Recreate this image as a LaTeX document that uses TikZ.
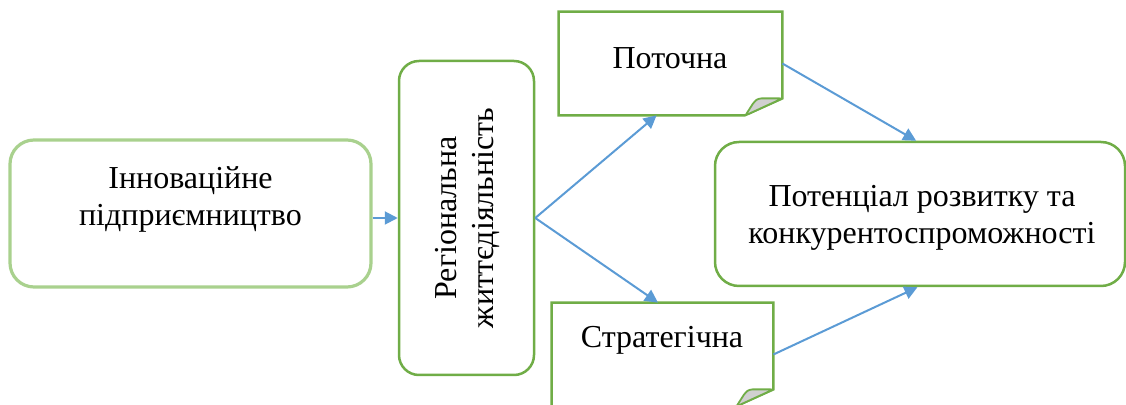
\documentclass[tikz,border=0pt]{standalone}
\usepackage{fontspec}
\setmainfont{Liberation Serif}
\usetikzlibrary{arrows.meta}
\definecolor{boxgreen}{RGB}{112,173,71}
\definecolor{litegreen}{RGB}{169,209,142}
\definecolor{arrowblue}{RGB}{91,155,213}
\definecolor{curlgray}{RGB}{208,208,208}

\begin{document}
\begin{tikzpicture}[x=0.5pt,y=-0.5pt,
  txt/.style={align=center,inner sep=0pt,font=\fontsize{16pt}{18.5pt}\selectfont},
  conn/.style={draw=arrowblue,line width=1pt,-{Triangle[length=6.5pt,width=6.5pt]}},
  fold/.style={boxgreen,line width=1.25pt},
  curl/.style={fill=curlgray,draw=boxgreen,line width=0.9pt,rounded corners=1.5pt}]

  \useasboundingbox (0,0) rectangle (1126,405);

  % boxes
  \node[draw=litegreen,line width=1.6pt,rounded corners=12pt,minimum width=180.5pt,minimum height=73.5pt] at (190.5,213.5) (b-innov) {};
  \node[draw=boxgreen,line width=1.25pt,rounded corners=10pt,minimum width=67.5pt,minimum height=157pt] at (466.5,218) (b-regio) {};
  \node[minimum width=111.5pt,minimum height=51.5pt] at (670.5,63.5) (b-poto) {};
  \node[minimum width=110.5pt,minimum height=51.5pt] at (662.5,354.5) (b-strat) {};
  \node[draw=boxgreen,line width=1.25pt,rounded corners=12pt,minimum width=205pt,minimum height=72pt] at (920,214) (b-poten) {};

  % folded corners
  \draw[fold] (b-poto.south east) ++(0,-17) -- (b-poto.north east) -- (b-poto.north west) -- (b-poto.south west) -- ++(186,0) -- cycle;
  \filldraw[curl] (b-poto.south east) ++(-37,0) -- ++(9,-14) -- ++(4,-3) -- ++(24,0) -- cycle;
  \draw[fold] (b-strat.south east) ++(0,-17) -- (b-strat.north east) -- (b-strat.north west) -- (b-strat.south west) -- ++(184,0) -- cycle;
  \filldraw[curl] (b-strat.south east) ++(-37,0) -- ++(9,-14) -- ++(4,-3) -- ++(24,0) -- cycle;

  % texts
  \node[txt] at (190.5,199.5) (t-innov) {Інноваційне\\підприємництво};
  \node[txt,rotate=90] at (467,218) (t-regio) {Регіональна\\життєдіяльність};
  \node[txt,anchor=base] at (670,69) (t-poto) {Поточна};
  \node[txt,anchor=base] at (662,348) (t-strat) {Стратегічна};
  \node[txt] at (922,218) (t-poten) {Потенціал розвитку та\\конкурентоспроможності};

  % connectors
  \draw[conn] (b-innov.east |- b-regio.west) -- (b-regio.west);
  \draw[conn] (b-regio.east) -- (b-poto.255);
  \draw[conn] (b-regio.east) -- (b-strat.95);
  \draw[conn] (b-poto.east) -- (b-poten.93);
  \draw[conn] (b-strat.east) -- (b-poten.268);

\end{tikzpicture}
\end{document}
